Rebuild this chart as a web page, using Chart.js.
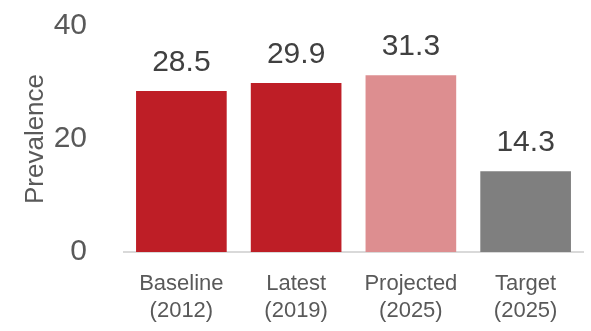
<!DOCTYPE html>
<html>
<head>
<meta charset="utf-8">
<script src="https://cdn.jsdelivr.net/npm/chart.js@4"></script>
<style>
html,body{margin:0;padding:0;background:#fff}
#wrap{width:591px;height:331px}
</style>
</head>
<body>
<div id="wrap"><canvas id="chart" width="591" height="331"></canvas></div>
<script>

let categories=[["Baseline","(2012)"],["Latest","(2019)"],["Projected","(2025)"],["Target","(2025)"]]
let prevalence=[28.5,29.9,31.3,14.3]
let barColors=["#be1e26","#be1e26","#dd8e90","#7f7f7f"]
let yTicks=[0,20,40]

let fontFam="'Liberation Sans', Arial, sans-serif"

let valueLabels={
id:"valueLabels",
afterDatasetsDraw(chart){
let ctx=chart.ctx
let meta=chart.getDatasetMeta(0)
ctx.save()
ctx.fillStyle="#404040"
ctx.font="30px "+fontFam
ctx.textAlign="center"
ctx.textBaseline="bottom"
meta.data.forEach((bar,i)=>{
ctx.fillText(prevalence[i].toFixed(1),bar.x,bar.y-13)
})
ctx.restore()
}
}

new Chart(document.getElementById("chart"),{
type:"bar",
data:{
labels:categories,
datasets:[{
data:prevalence,
backgroundColor:barColors,
barPercentage:0.79,
categoryPercentage:1
}]
},
options:{
responsive:false,
animation:false,
layout:{padding:{top:26,right:8,left:20,bottom:0}},
plugins:{legend:{display:false},tooltip:{enabled:false}},
scales:{
x:{
grid:{display:false},
border:{color:"#d9d9d9",width:2},
ticks:{color:"#595959",font:{size:22,family:fontFam},padding:11,maxRotation:0},
afterFit(s){s.height=79;s.paddingLeft=0;s.paddingRight=0}
},
y:{
min:0,max:40,
grid:{display:false},
border:{display:false},
afterBuildTicks(s){s.ticks=yTicks.map(v=>({value:v}))},
ticks:{color:"#595959",font:{size:30,family:fontFam},padding:29},
title:{display:true,text:"Prevalence",color:"#595959",font:{size:26,family:fontFam},padding:0},
afterFit(s){s.width=104;s.paddingTop=0;s.paddingBottom=0}
}
}
},
plugins:[valueLabels]
})

</script>
</body>
</html>
